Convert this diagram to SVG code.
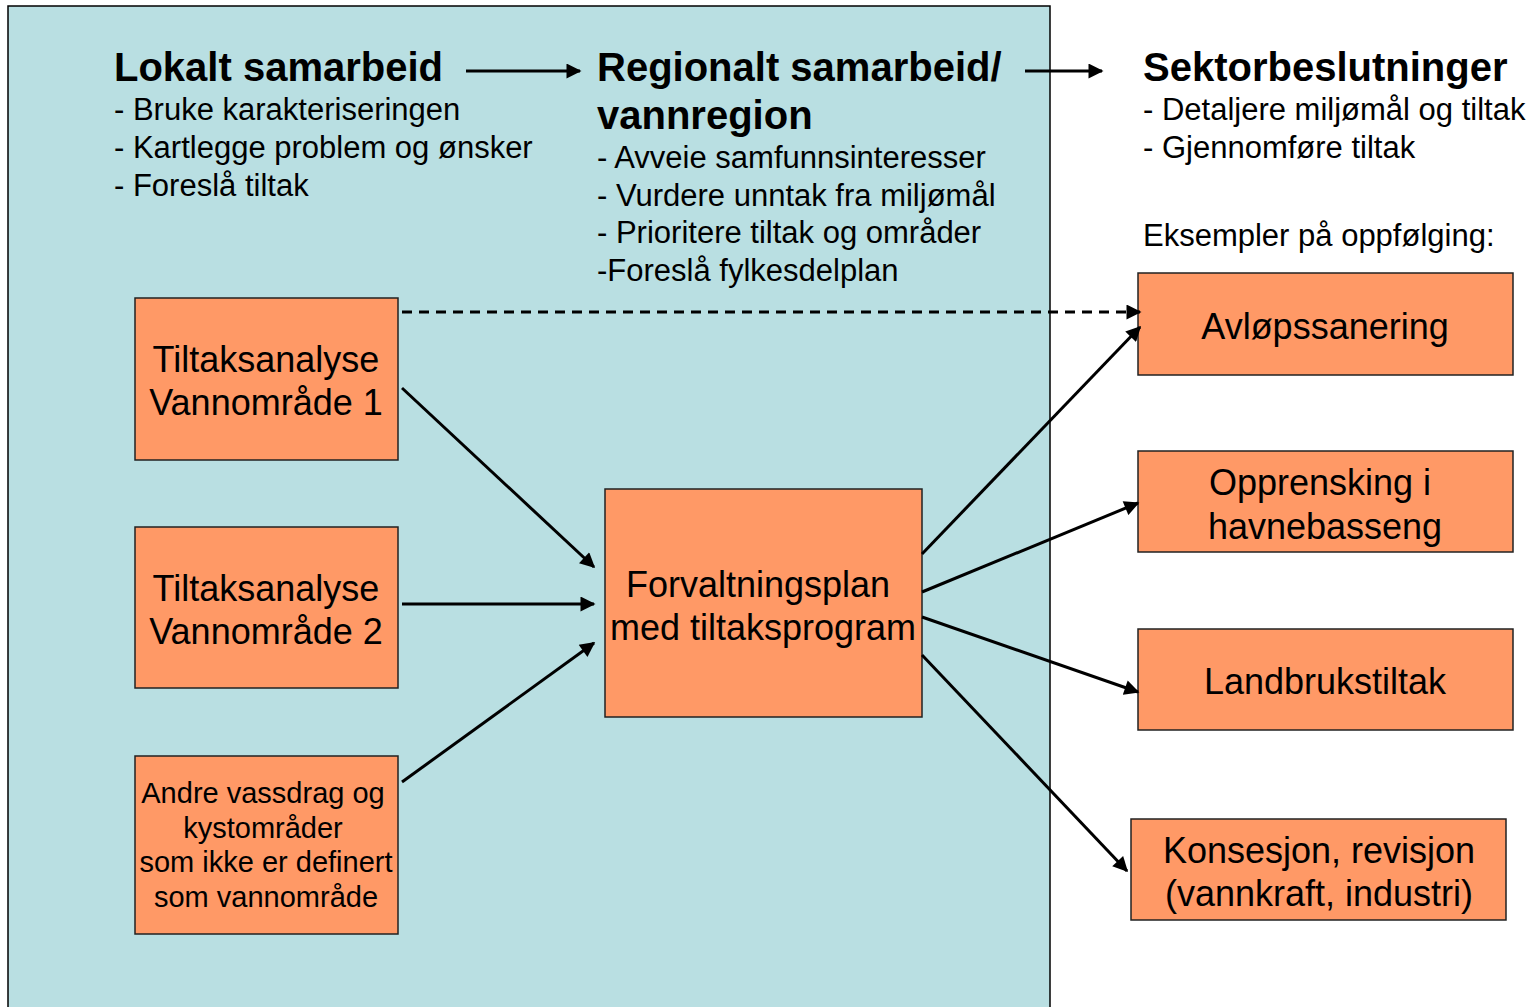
<svg xmlns="http://www.w3.org/2000/svg" width="1531" height="1007" viewBox="0 0 1531 1007">
<style>
text{font-family:"Liberation Sans",Arial,sans-serif;fill:#000}
.h{font-size:40px;font-weight:bold}
.l{font-size:31px}
.b{font-size:36px;text-anchor:middle}
.s{font-size:29px;text-anchor:middle}
.box{fill:#FF9966;stroke:#222;stroke-width:1.5}
.c{stroke:#000;stroke-width:3;fill:none;marker-end:url(#ah)}
</style>
<defs>
<marker id="ah" viewBox="0 0 10 10" refX="9" refY="5" markerWidth="6" markerHeight="5" orient="auto" markerUnits="strokeWidth">
<path d="M0,0 L10,5 L0,10 Z" fill="#000"/>
</marker>
</defs>
<rect width="1531" height="1007" fill="#fff"/>
<rect id="panel" x="8" y="6" width="1042" height="1010" fill="#B9DFE2" stroke="#000" stroke-width="1.5"/>
<g id="headers">
<text class="h" x="114" y="81">Lokalt samarbeid</text>
<text class="l" x="114" y="120">- Bruke karakteriseringen</text>
<text class="l" x="114" y="158">- Kartlegge problem og ønsker</text>
<text class="l" x="114" y="196">- Foreslå tiltak</text>
<text class="h" x="597" y="81">Regionalt samarbeid/</text>
<text class="h" x="597" y="129">vannregion</text>
<text class="l" x="597" y="168">- Avveie samfunnsinteresser</text>
<text class="l" x="597" y="206">- Vurdere unntak fra miljømål</text>
<text class="l" x="597" y="243">- Prioritere tiltak og områder</text>
<text class="l" x="597" y="281">-Foreslå fylkesdelplan</text>
<text class="h" x="1143" y="81">Sektorbeslutninger</text>
<text class="l" x="1143" y="120">- Detaljere miljømål og tiltak</text>
<text class="l" x="1143" y="158">- Gjennomføre tiltak</text>
<text class="l" x="1143" y="246">Eksempler på oppfølging:</text>
</g>
<g id="n1"><rect class="box" x="135" y="298" width="263" height="162"/>
<text class="b" x="266" y="372">Tiltaksanalyse</text><text class="b" x="266" y="415">Vannområde 1</text></g>
<g id="n2"><rect class="box" x="135" y="527" width="263" height="161"/>
<text class="b" x="266" y="601">Tiltaksanalyse</text><text class="b" x="266" y="644">Vannområde 2</text></g>
<g id="n3"><rect class="box" x="135" y="756" width="263" height="178"/>
<text class="s" x="263" y="803">Andre vassdrag og</text><text class="s" x="263" y="838">kystområder</text>
<text class="s" x="266" y="872">som ikke er definert</text><text class="s" x="266" y="907">som vannområde</text></g>
<g id="n4"><rect class="box" x="605" y="489" width="317" height="228"/>
<text class="b" x="758" y="597">Forvaltningsplan</text><text class="b" x="763" y="640">med tiltaksprogram</text></g>
<g id="n5"><rect class="box" x="1138" y="273" width="375" height="102"/>
<text class="b" x="1325" y="339">Avløpssanering</text></g>
<g id="n6"><rect class="box" x="1138" y="451" width="375" height="101"/>
<text class="b" x="1320" y="495">Opprensking i</text><text class="b" x="1325" y="539">havnebasseng</text></g>
<g id="n7"><rect class="box" x="1138" y="629" width="375" height="101"/>
<text class="b" x="1325" y="694">Landbrukstiltak</text></g>
<g id="n8"><rect class="box" x="1131" y="819" width="375" height="101"/>
<text class="b" x="1319" y="863">Konsesjon, revisjon</text><text class="b" x="1319" y="906">(vannkraft, industri)</text></g>
<g id="connectors">
<line class="c" x1="466" y1="71" x2="580" y2="71"/>
<line class="c" x1="1025" y1="71" x2="1102" y2="71"/>
<line class="c" x1="402" y1="312" x2="1140" y2="312" stroke-dasharray="10,7"/>
<line class="c" x1="402" y1="388" x2="594" y2="567"/>
<line class="c" x1="402" y1="604" x2="594" y2="604"/>
<line class="c" x1="402" y1="782" x2="594" y2="643"/>
<line class="c" x1="922" y1="554" x2="1140" y2="327"/>
<line class="c" x1="922" y1="592" x2="1138" y2="503"/>
<line class="c" x1="922" y1="617" x2="1138" y2="692"/>
<line class="c" x1="922" y1="655" x2="1127" y2="871"/>
</g>
</svg>
